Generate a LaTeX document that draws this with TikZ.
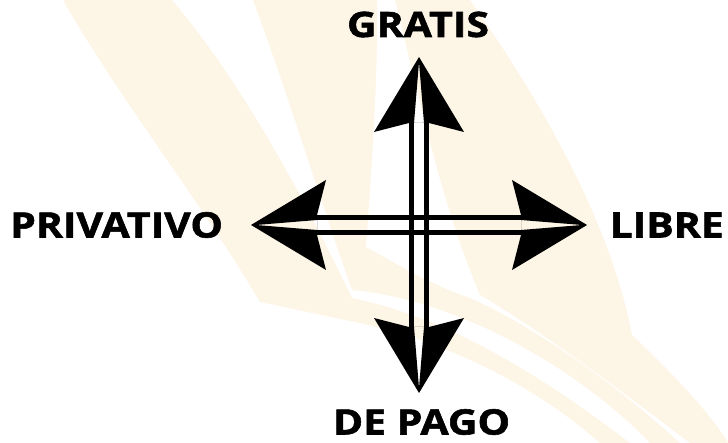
\documentclass[tikz,border=0pt]{standalone}
\usepackage{fontspec}
\setmainfont{Open Sans}
\newfontfamily\labelfont{Open Sans}[FakeStretch=1.17, FakeBold=1.6]
\usepackage{tikz}
\definecolor{cream}{HTML}{FDF5E6}
\tikzset{
    % faint swooshes behind the cross
    band/.style={fill=cream, draw=none},
    % one of the two lines of a shaft
    shaft/.style={line width=5pt},
    % arrow head with a slit cut into it
    head/.style={fill=black, even odd rule, line join=round},
    label/.style={font=\labelfont\bfseries\fontsize{35}{35}\selectfont, inner sep=0pt}
}

\begin{document}
\begin{tikzpicture}[x=1pt, y=-1pt]
    \useasboundingbox (0,0) rectangle (728,443);
    % background
    \fill[band] (63,0) .. controls (120,100) and (200,200) .. (260,302)
        -- (345,320) .. controls (450,340) and (540,390) .. (600,443)
        -- (630,443) .. controls (560,390) and (460,320) .. (352,298)
        .. controls (300,190) and (240,80) .. (172,0) -- cycle;
    \fill[band] (253,0) .. controls (290,100) and (320,200) .. (352,290)
        .. controls (460,300) and (580,370) .. (650,443)
        -- (680,443) .. controls (600,370) and (520,320) .. (470,298)
        .. controls (430,285) and (390,260) .. (366,247)
        .. controls (372,160) and (378,80) .. (377,0) -- cycle;
    \fill[band] (395,0) -- (470,0) .. controls (540,100) and (610,220) .. (632,335)
        .. controls (680,380) and (715,420) .. (728,443)
        -- (690,443) .. controls (620,390) and (540,330) .. (480,295)
        .. controls (440,200) and (420,100) .. (395,0) -- cycle;

    \coordinate (c) at (419,225);
    \foreach \a in {0, 90, 180, 270} {
        \begin{scope}[shift={(c)}, rotate=\a]
            \draw[shaft] (0,7.5) -- (110,7.5);
            \draw[shaft] (0,-7.5) -- (110,-7.5);
            \fill[head] (168,0) -- (93,45) -- (102,10) -- (102,-10) -- (93,-45) -- cycle
                (102,5) -- (163,0) -- (102,-5) -- cycle;
        \end{scope}
    }

    \node[label] (gratis) at (418,24.5) {GRATIS};
    \node[label, anchor=west] (privativo) at (10,225) {PRIVATIVO};
    \node[label, anchor=east] (libre) at (724,225) {LIBRE};
    \node[label] (pago) at (421.5,422) {DE PAGO};
\end{tikzpicture}
\end{document}
